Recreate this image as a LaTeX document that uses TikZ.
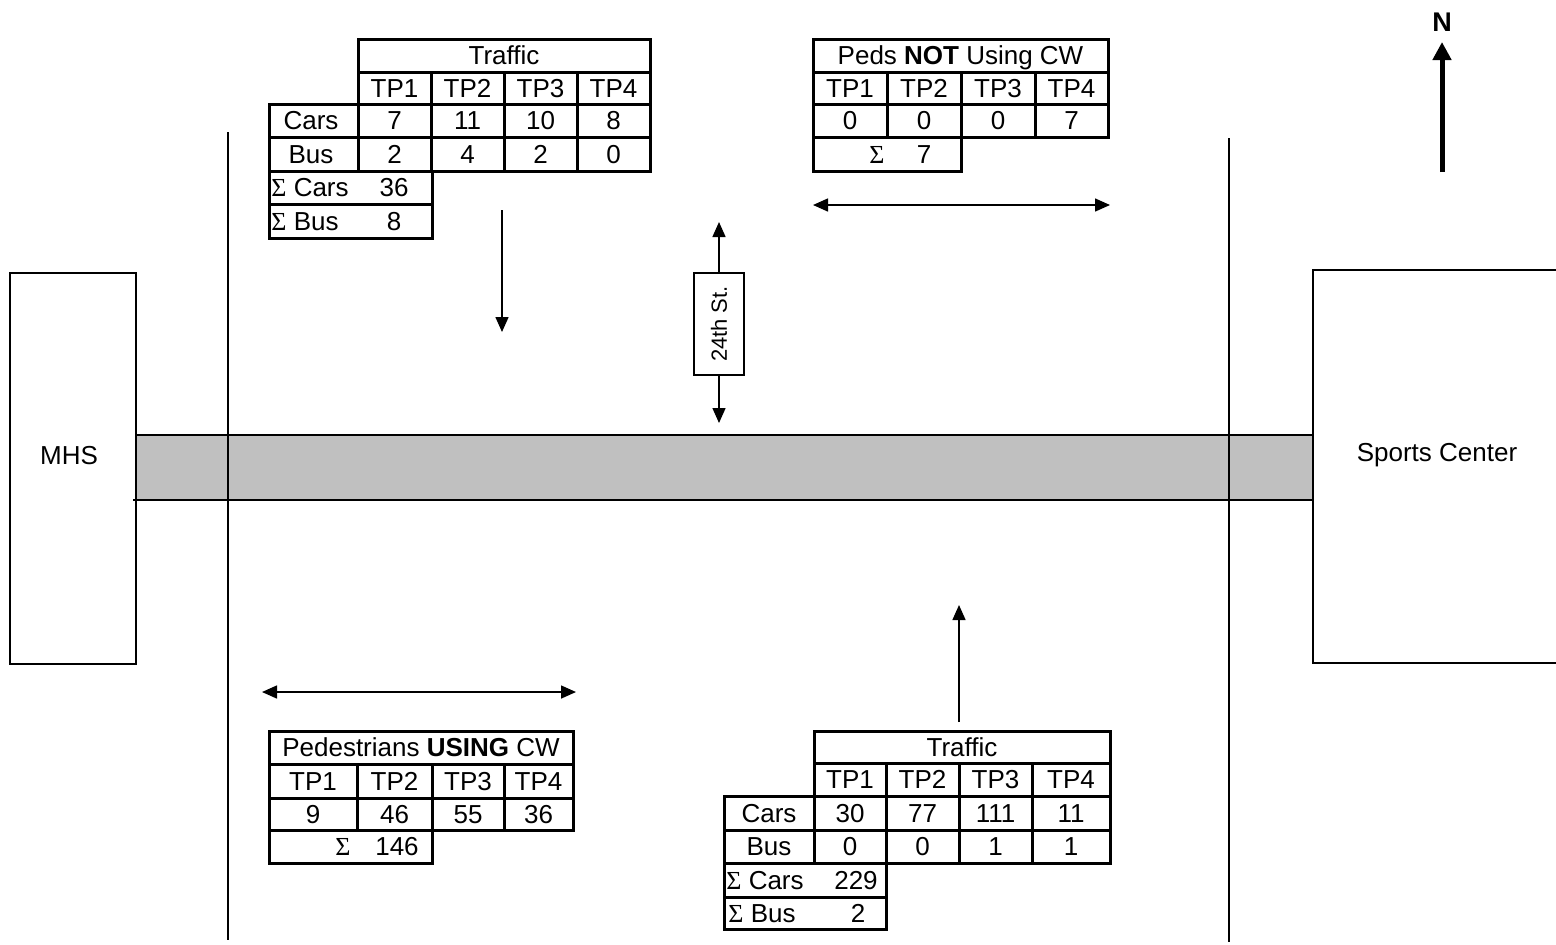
\documentclass[tikz,border=0pt]{standalone}
\usepackage{fontspec}
\setmainfont{Liberation Sans}
\newfontfamily\sigmafont{Liberation Serif}
\usepackage{tikz}
\usetikzlibrary{arrows.meta, positioning}
\definecolor{roadgrey}{HTML}{C0C0C0}

\begin{document}
\begin{tikzpicture}[
    x=0.5pt, y=-0.5pt,
    cellbox/.style={draw=black, line width=1.5pt},
    celltext/.style={font=\fontsize{13}{15}\selectfont, inner sep=0pt, text height=9.3pt, text depth=0pt},
    building/.style={draw=black, line width=1pt},
    roadline/.style={draw=black, line width=1pt},
    flow/.style={line width=0.75pt, -{Triangle[length=7.5pt, width=6.5pt]}},
    twoway/.style={line width=0.75pt, {Triangle[length=7.5pt, width=6.5pt]}-{Triangle[length=7.5pt, width=6.5pt]}},
    streetlabel/.style={draw=black, line width=0.75pt, rotate=90, font=\fontsize{11}{13}\selectfont, minimum width=51pt, minimum height=25pt, inner sep=0pt}
]
\useasboundingbox (0,0) rectangle (1556,944);

% Strasse und Gebaeude
\fill[roadgrey] (136,435) rectangle (1313,500);
\draw[roadline] (136,435) -- (1313,435) (133,500) -- (1313,500);
\draw[roadline] (228,132) -- (228,940) (1229,138) -- (1229,942);
\draw[building] (10,273) rectangle (136,664);
\node[celltext] (mhs) at (69,455) {MHS};
\draw[building] (1556,270) -- (1313,270) -- (1313,663) -- (1556,663);
\node[celltext] (sports) at (1437,452) {Sports Center};

% Tabelle oben links: Verkehr
\draw[cellbox] (358,39) rectangle (650,72);
\node[celltext] (topHead) at (504,55.5) {Traffic};
\foreach \a/\b/\car/\bus [count=\i] in {358/431/7/2, 431/504/11/4, 504/577/10/2, 577/650/8/0} {
    \draw[cellbox] (\a,72) rectangle (\b,104) (\a,104) rectangle (\b,137) (\a,137) rectangle (\b,171);
    \node[celltext] (topTp\i) at ({(\a+\b)/2},88) {TP\i};
    \node[celltext] (topCar\i) at ({(\a+\b)/2},120.5) {\car};
    \node[celltext] (topBus\i) at ({(\a+\b)/2},154) {\bus};
}
\draw[cellbox] (269,104) rectangle (358,137) (269,137) rectangle (358,171);
\node[celltext] (topCars) at (311,120.5) {Cars};
\node[celltext] (topBus) at (311,154) {Bus};
\draw[cellbox] (269,171) rectangle (432,204) (269,204) rectangle (432,238);
\node[celltext, anchor=west] (topSumCars) at (271,187.5) {{\sigmafont Σ} Cars};
\node[celltext] (topSumCarsVal) at (394,187.5) {36};
\node[celltext, anchor=west] (topSumBus) at (271,221) {{\sigmafont Σ} Bus};
\node[celltext] (topSumBusVal) at (394,221) {8};

% Tabelle oben rechts: Fussgaenger ohne Zebrastreifen
\draw[cellbox] (813,39) rectangle (1108,72);
\node[celltext] (notHead) at (960.5,55.5) {Peds \textbf{NOT} Using CW};
\foreach \a/\b/\v [count=\i] in {813/887/0, 887/961/0, 961/1035/0, 1035/1108/7} {
    \draw[cellbox] (\a,72) rectangle (\b,104) (\a,104) rectangle (\b,137);
    \node[celltext] (notTp\i) at ({(\a+\b)/2},88) {TP\i};
    \node[celltext] (notVal\i) at ({(\a+\b)/2},120.5) {\v};
}
\draw[cellbox] (813,137) rectangle (961,171);
\node[celltext] (notSigma) at (877,154) {\sigmafont Σ};
\node[celltext] (notSum) at (924,154) {7};

% Tabelle unten links: Fussgaenger mit Zebrastreifen
\draw[cellbox] (269,731) rectangle (573,764);
\node[celltext] (usingHead) at (421,747.5) {Pedestrians \textbf{USING} CW};
\foreach \a/\b/\v [count=\i] in {269/357/9, 357/432/46, 432/504/55, 504/573/36} {
    \draw[cellbox] (\a,764) rectangle (\b,798) (\a,798) rectangle (\b,830);
    \node[celltext] (usingTp\i) at ({(\a+\b)/2},781) {TP\i};
    \node[celltext] (usingVal\i) at ({(\a+\b)/2},814) {\v};
}
\draw[cellbox] (269,830) rectangle (432,863);
\node[celltext] (usingSigma) at (343,846.5) {\sigmafont Σ};
\node[celltext] (usingSum) at (397,846.5) {146};

% Tabelle unten rechts: Verkehr
\draw[cellbox] (814,731) rectangle (1110,763);
\node[celltext] (botHead) at (962,747) {Traffic};
\foreach \a/\b/\car/\bus [count=\i] in {814/886/30/0, 886/959/77/0, 959/1032/111/1, 1032/1110/11/1} {
    \draw[cellbox] (\a,763) rectangle (\b,796) (\a,796) rectangle (\b,830) (\a,830) rectangle (\b,863);
    \node[celltext] (botTp\i) at ({(\a+\b)/2},779.5) {TP\i};
    \node[celltext] (botCar\i) at ({(\a+\b)/2},813) {\car};
    \node[celltext] (botBus\i) at ({(\a+\b)/2},846.5) {\bus};
}
\draw[cellbox] (724,796) rectangle (814,830) (724,830) rectangle (814,863);
\node[celltext] (botCars) at (769,813) {Cars};
\node[celltext] (botBus) at (769,846.5) {Bus};
\draw[cellbox] (724,863) rectangle (886,897) (724,897) rectangle (886,929);
\node[celltext, anchor=west] (botSumCars) at (726,880) {{\sigmafont Σ} Cars};
\node[celltext] (botSumCarsVal) at (856,880) {229};
\node[celltext, anchor=west] (botSumBus) at (728,913) {{\sigmafont Σ} Bus};
\node[celltext] (botSumBusVal) at (858,913) {2};

% Fahrtrichtungen und Gehwege
\coordinate (inTop) at (502,210);
\coordinate (inTopEnd) at (502,332);
\draw[flow] (inTop) -- (inTopEnd);
\coordinate (inBot) at (959,722);
\coordinate (inBotEnd) at (959,605);
\draw[flow] (inBot) -- (inBotEnd);
\coordinate (notW) at (813,205);
\coordinate (notE) at (1110,205);
\draw[twoway] (notW) -- (notE);
\coordinate (usingW) at (262,692);
\coordinate (usingE) at (576,692);
\draw[twoway] (usingW) -- (usingE);

% Strassenname
\node[streetlabel] (street) at (719,324) {24th St.};
\coordinate (streetN) at (719,222);
\coordinate (streetS) at (719,423);
\draw[flow] (street.east) -- (streetN);
\draw[flow] (street.west) -- (streetS);

% Nordpfeil
\coordinate (northFoot) at (1442,172);
\coordinate (northTip) at (1442,42);
\draw[line width=2.5pt, -{Triangle[length=9pt, width=9pt]}] (northFoot) -- (northTip);
\node[font=\bfseries\fontsize{13.5}{16}\selectfont, inner sep=0pt, above=5pt of northTip] (north) {N};

\end{tikzpicture}
\end{document}
